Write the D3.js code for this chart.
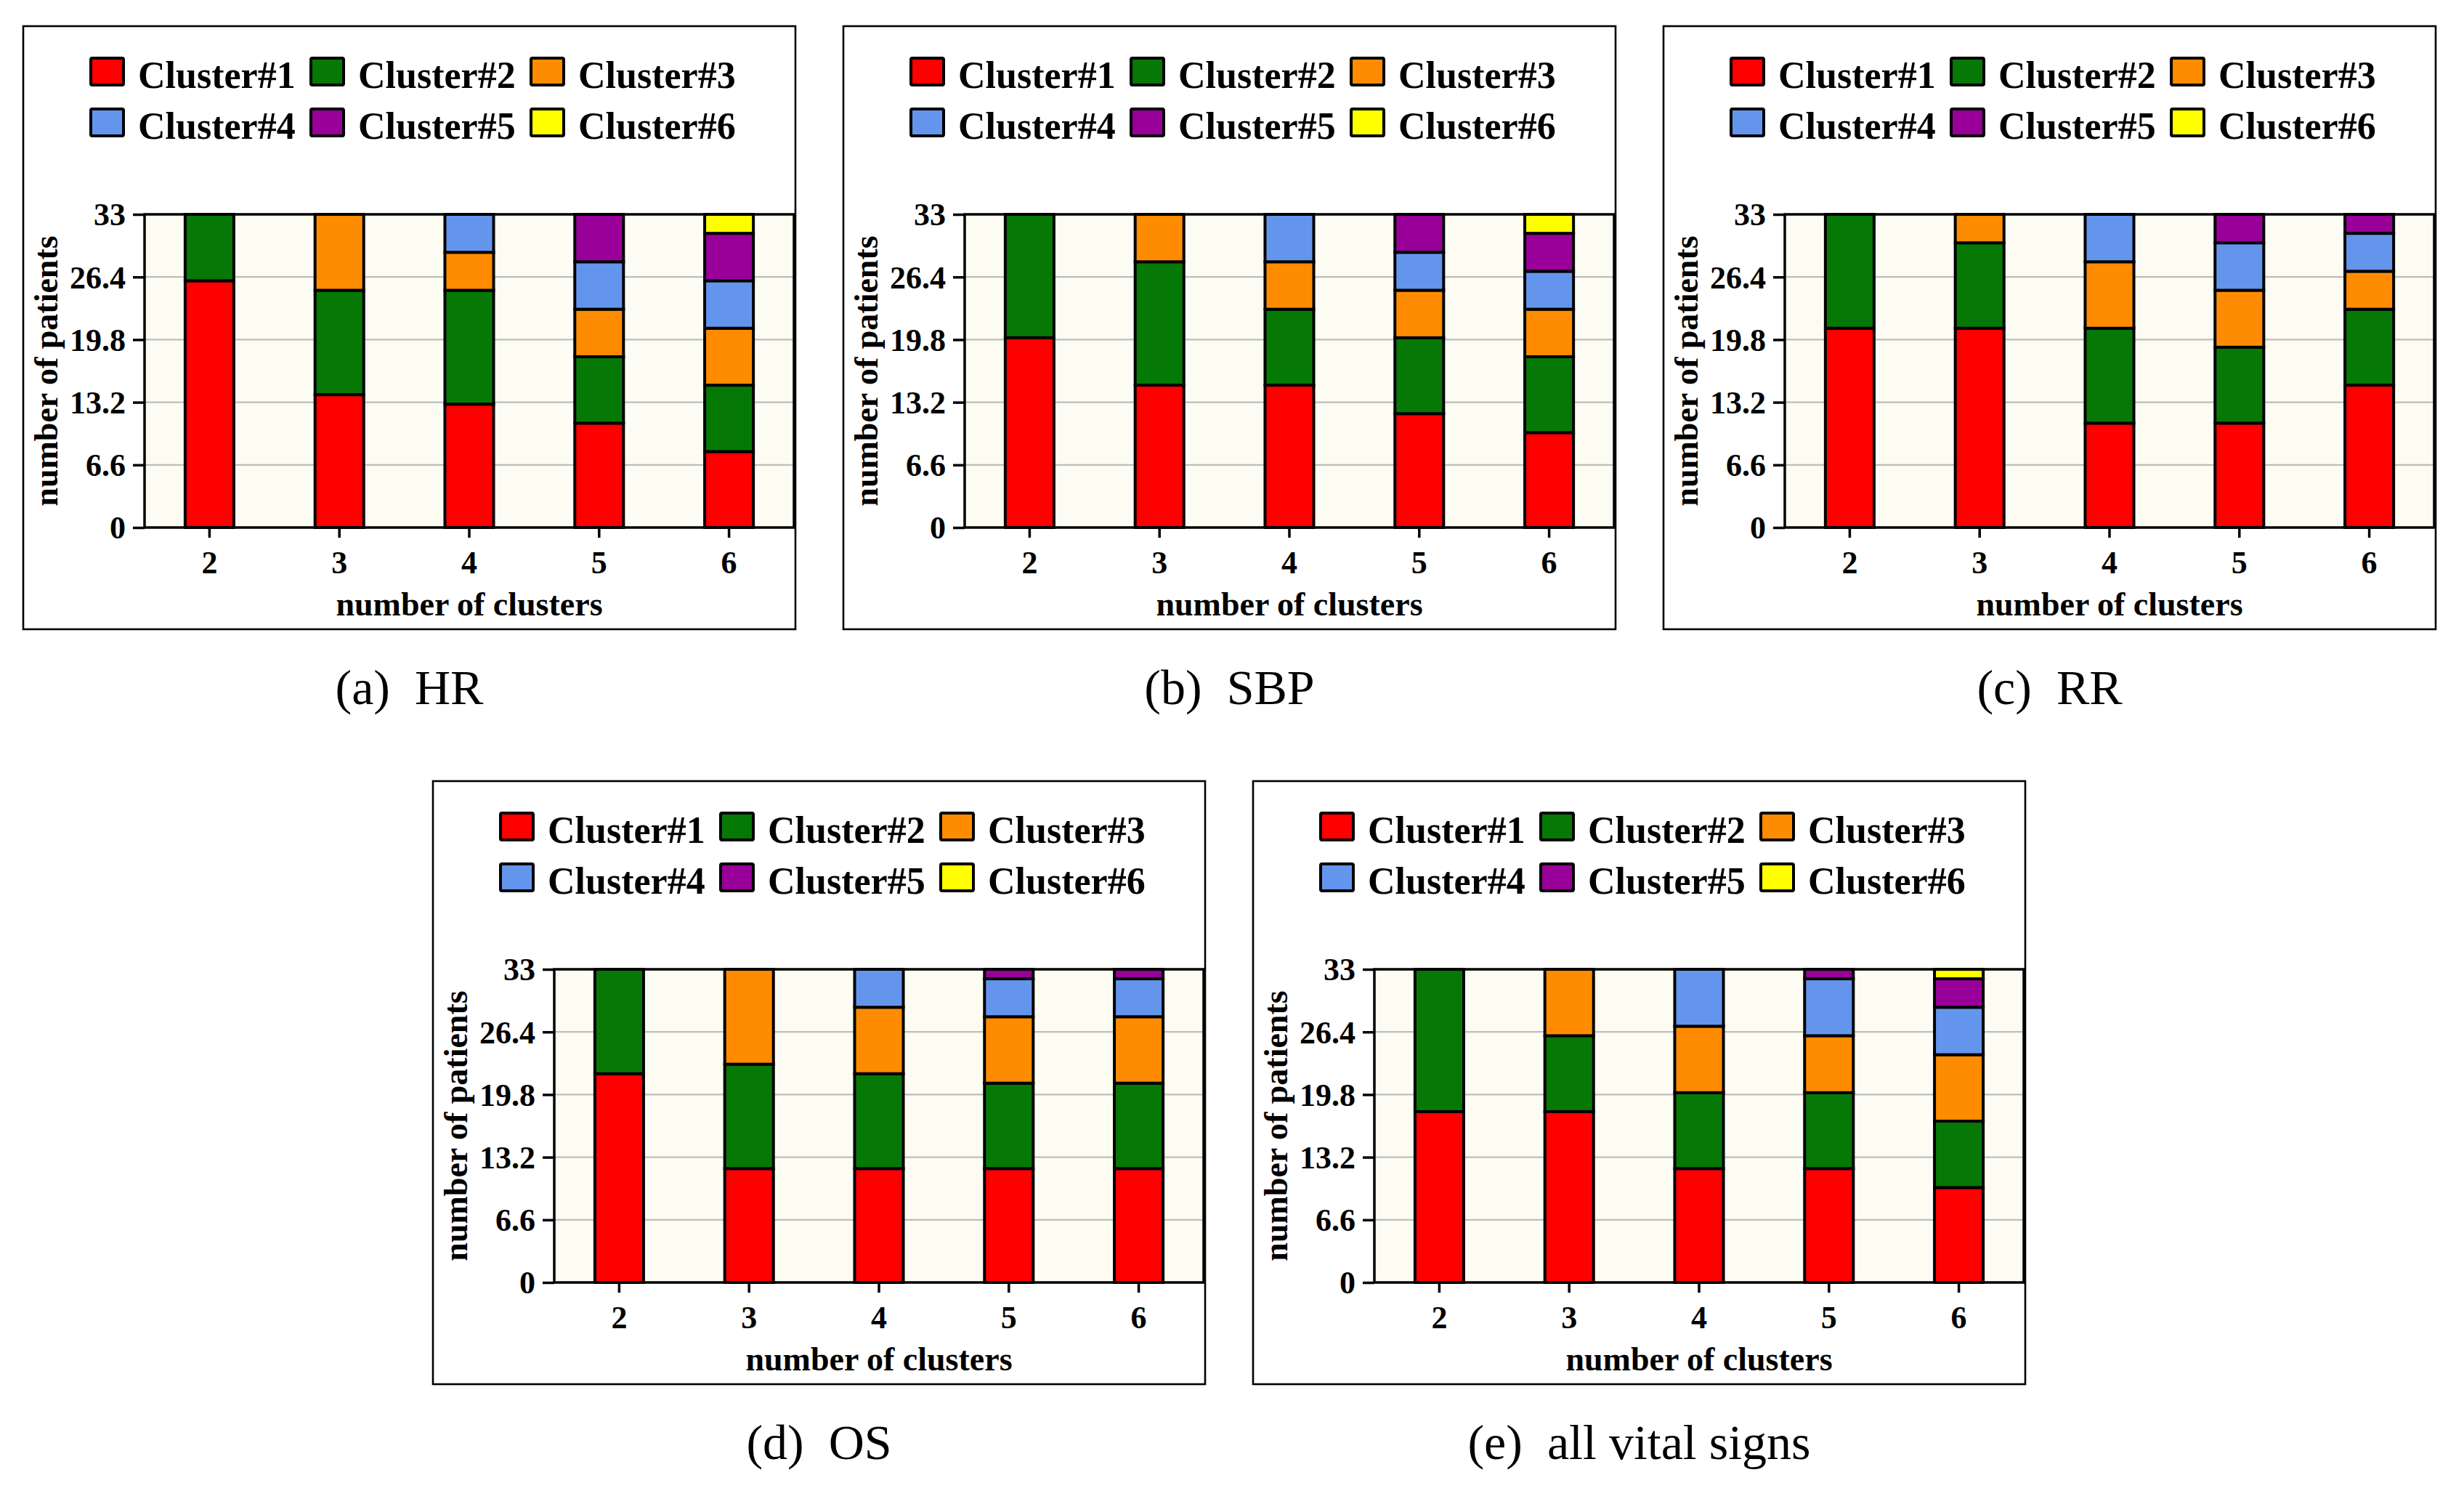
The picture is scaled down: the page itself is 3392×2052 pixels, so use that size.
<!DOCTYPE html>
<html>
<head>
<meta charset="utf-8">
<script src="https://d3js.org/d3.v7.min.js"></script>
<style>
  html, body { margin: 0; padding: 0; background: #ffffff; }
  svg { display: block; }
</style>
</head>
<body>
<script>
// ---------- data ----------
const categories = ["2", "3", "4", "5", "6"];
const seriesNames = ["Cluster#1", "Cluster#2", "Cluster#3", "Cluster#4", "Cluster#5", "Cluster#6"];
const seriesColors = ["#ff0000", "#067806", "#ff8c00", "#6495ed", "#990099", "#ffff00"];
const yTicks = [0, 6.6, 13.2, 19.8, 26.4, 33];
const yMax = 33;
const xTitle = "number of clusters";
const yTitle = "number of patients";

// HR
const hrC1 = [26, 14, 13, 11, 8];
const hrC2 = [7, 11, 12, 7, 7];
const hrC3 = [0, 8, 4, 5, 6];
const hrC4 = [0, 0, 4, 5, 5];
const hrC5 = [0, 0, 0, 5, 5];
const hrC6 = [0, 0, 0, 0, 2];
// SBP
const sbpC1 = [20, 15, 15, 12, 10];
const sbpC2 = [13, 13, 8, 8, 8];
const sbpC3 = [0, 5, 5, 5, 5];
const sbpC4 = [0, 0, 5, 4, 4];
const sbpC5 = [0, 0, 0, 4, 4];
const sbpC6 = [0, 0, 0, 0, 2];
// RR
const rrC1 = [21, 21, 11, 11, 15];
const rrC2 = [12, 9, 10, 8, 8];
const rrC3 = [0, 3, 7, 6, 4];
const rrC4 = [0, 0, 5, 5, 4];
const rrC5 = [0, 0, 0, 3, 2];
const rrC6 = [0, 0, 0, 0, 0];
// OS
const osC1 = [22, 12, 12, 12, 12];
const osC2 = [11, 11, 10, 9, 9];
const osC3 = [0, 10, 7, 7, 7];
const osC4 = [0, 0, 4, 4, 4];
const osC5 = [0, 0, 0, 1, 1];
const osC6 = [0, 0, 0, 0, 0];
// all vital signs
const allC1 = [18, 18, 12, 12, 10];
const allC2 = [15, 8, 8, 8, 7];
const allC3 = [0, 7, 7, 6, 7];
const allC4 = [0, 0, 6, 6, 5];
const allC5 = [0, 0, 0, 1, 3];
const allC6 = [0, 0, 0, 0, 1];

const captions = ["(a)\u2002HR", "(b)\u2002SBP", "(c)\u2002RR", "(d)\u2002OS", "(e)\u2002all vital signs"];

const panels = [
  { caption: captions[0], series: [hrC1, hrC2, hrC3, hrC4, hrC5, hrC6], x: 32, y: 36 },
  { caption: captions[1], series: [sbpC1, sbpC2, sbpC3, sbpC4, sbpC5, sbpC6], x: 1161, y: 36 },
  { caption: captions[2], series: [rrC1, rrC2, rrC3, rrC4, rrC5, rrC6], x: 2290, y: 36 },
  { caption: captions[3], series: [osC1, osC2, osC3, osC4, osC5, osC6], x: 596, y: 1075 },
  { caption: captions[4], series: [allC1, allC2, allC3, allC4, allC5, allC6], x: 1725, y: 1075 }
];

// ---------- layout ----------
const W = 3392, H = 2052;
const boxW = 1063, boxH = 830;
const plot = { left: 167, top: 259, right: 1061, bottom: 690 };
const serif = "'Liberation Serif', 'Times New Roman', serif";

const svg = d3.select("body").append("svg")
  .attr("width", W).attr("height", H)
  .attr("viewBox", `0 0 ${W} ${H}`);
svg.append("rect").attr("width", W).attr("height", H).attr("fill", "#ffffff");

const x = d3.scaleBand().domain(categories)
  .range([0, plot.right - plot.left])
  .paddingInner(0.625).paddingOuter(0.3125);
const y = d3.scaleLinear().domain([0, yMax]).range([plot.bottom - plot.top, 0]);

panels.forEach(p => {
  const g = svg.append("g").attr("transform", `translate(${p.x},${p.y})`);

  // outer frame
  g.append("rect").attr("x", 0).attr("y", 0).attr("width", boxW).attr("height", boxH)
    .attr("fill", "#ffffff").attr("stroke", "#000").attr("stroke-width", 2.6);

  // legend
  const leg = g.append("g").attr("class", "legend");
  seriesNames.forEach((name, i) => {
    const col = i % 3, row = Math.floor(i / 3);
    const lx = 93 + col * 303, ly = 44 + row * 70;
    leg.append("rect").attr("x", lx).attr("y", ly).attr("width", 45).attr("height", 37)
      .attr("rx", 2).attr("fill", seriesColors[i]).attr("stroke", "#000").attr("stroke-width", 4);
    leg.append("text").attr("x", lx + 65).attr("y", ly + 41)
      .attr("font-family", serif).attr("font-weight", "bold").attr("font-size", 52)
      .attr("fill", "#000").text(name);
  });

  const pg = g.append("g").attr("transform", `translate(${plot.left},${plot.top})`);
  const pw = plot.right - plot.left, ph = plot.bottom - plot.top;

  // background
  pg.append("rect").attr("width", pw).attr("height", ph).attr("fill", "#fcfcf3");

  // gridlines
  pg.append("g").selectAll("line").data(yTicks.filter(t => t > 0 && t < yMax)).join("line")
    .attr("x1", 0).attr("x2", pw).attr("y1", d => y(d)).attr("y2", d => y(d))
    .attr("stroke", "#bdbdbd").attr("stroke-width", 2.2);

  // stacked bars
  const table = categories.map((c, j) => {
    const row = { cat: c };
    seriesNames.forEach((s, i) => row[s] = p.series[i][j]);
    return row;
  });
  const stacked = d3.stack().keys(seriesNames)(table);
  stacked.forEach((layer, i) => {
    pg.append("g").selectAll("rect").data(layer.filter(d => d[1] - d[0] > 0)).join("rect")
      .attr("x", d => x(d.data.cat))
      .attr("width", x.bandwidth())
      .attr("y", d => y(d[1]))
      .attr("height", d => y(d[0]) - y(d[1]))
      .attr("fill", seriesColors[i])
      .attr("stroke", "#000").attr("stroke-width", 4);
  });

  // plot border
  pg.append("rect").attr("width", pw).attr("height", ph).attr("fill", "none")
    .attr("stroke", "#000").attr("stroke-width", 3.5);

  // y axis
  const yAxis = d3.axisLeft(y).tickValues(yTicks).tickSize(16).tickPadding(10)
    .tickFormat(d => String(d));
  const ya = pg.append("g").call(yAxis);
  ya.select(".domain").remove();
  ya.selectAll(".tick line").attr("stroke", "#000").attr("stroke-width", 3.5);
  ya.selectAll(".tick text").attr("font-family", serif).attr("font-weight", "bold")
    .attr("font-size", 44).attr("fill", "#000").attr("dy", "0.34em");

  // x axis
  const xAxis = d3.axisBottom(x).tickSize(14).tickPadding(18);
  const xa = pg.append("g").attr("transform", `translate(0,${ph})`).call(xAxis);
  xa.select(".domain").remove();
  xa.selectAll(".tick line").attr("stroke", "#000").attr("stroke-width", 3.5);
  xa.selectAll(".tick text").attr("font-family", serif).attr("font-weight", "bold")
    .attr("font-size", 44).attr("fill", "#000").attr("dy", "0.71em");

  // axis titles
  g.append("text").attr("x", plot.left + pw / 2).attr("y", 811)
    .attr("text-anchor", "middle").attr("font-family", serif).attr("font-weight", "bold")
    .attr("font-size", 46).attr("fill", "#000").text(xTitle);
  g.append("text")
    .attr("transform", `translate(47,${plot.top + ph / 2}) rotate(-90)`)
    .attr("text-anchor", "middle").attr("font-family", serif).attr("font-weight", "bold")
    .attr("font-size", 46).attr("fill", "#000").text(yTitle);

  // caption
  g.append("text").attr("x", boxW / 2).attr("y", 933)
    .attr("text-anchor", "middle").attr("font-family", serif)
    .attr("font-size", 68).attr("fill", "#000").text(p.caption);
});
</script>
</body>
</html>
